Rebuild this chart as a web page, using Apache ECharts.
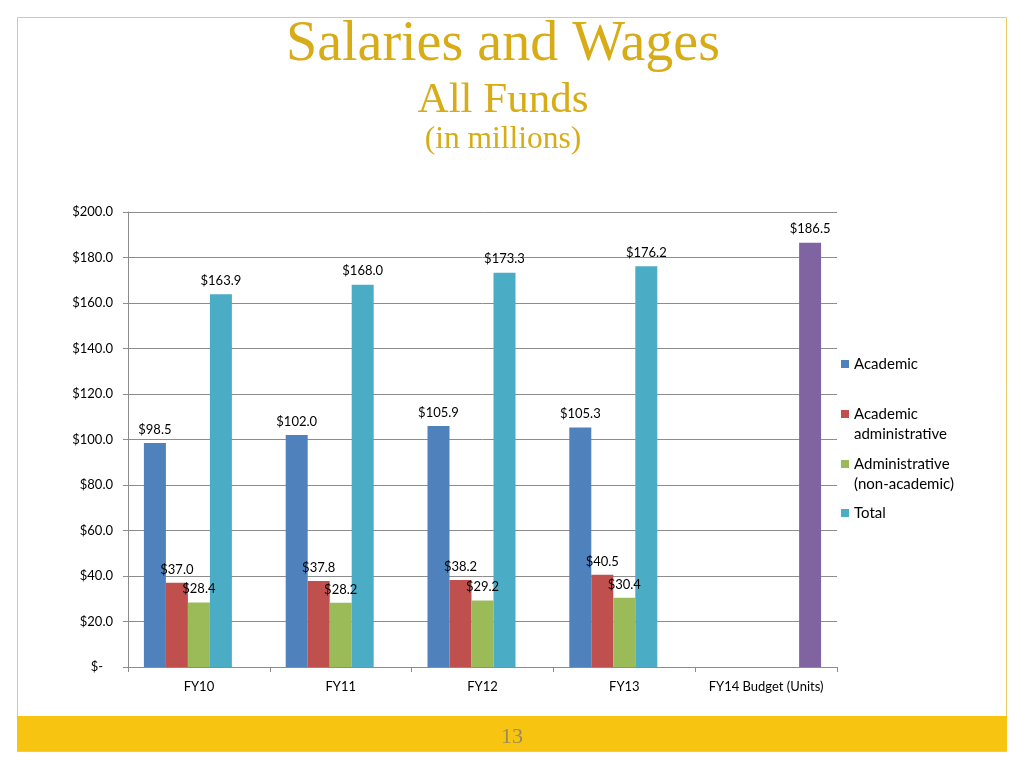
<!DOCTYPE html>
<html>
<head>
<meta charset="utf-8">
<script src="https://cdn.jsdelivr.net/npm/echarts@6/dist/echarts.min.js"></script>
<style>
html,body{margin:0;padding:0;background:#fff;}
#chart{width:1024px;height:768px;}
</style>
</head>
<body>
<div id="chart"></div>
<script>
const categories = ['FY10', 'FY11', 'FY12', 'FY13', 'FY14 Budget (Units)'];
const academic = [98.5, 102.0, 105.9, 105.3, null];
const academicAdmin = [37.0, 37.8, 38.2, 40.5, null];
const administrative = [28.4, 28.2, 29.2, 30.4, null];
const total = [163.9, 168.0, 173.3, 176.2, null];
const budget = [null, null, null, null, 186.5];
const seriesNames = ['Academic', 'Academic administrative', 'Administrative (non-academic)', 'Total'];
const legendLabels = ['Academic', ' \nAcademic\nadministrative', ' \nAdministrative\n(non-academic)', 'Total'];
const yTicks = [0, 20, 40, 60, 80, 100, 120, 140, 160, 180, 200];

const colors = ['#4F81BD', '#C0504D', '#9BBB59', '#4BACC6', '#8064A2'];
const fontFam = 'Lato, "Noto Sans", sans-serif';
const gold = '#D8AC17';

function money(v) { return '$' + Number(v).toFixed(1); }

const labelCfg = {
  show: true, position: 'top', distance: 7,
  fontFamily: fontFam, fontSize: 13, color: '#000',
  formatter: p => money(p.value)
};

function mkSeries(name, data, color) {
  return {
    name: name, type: 'bar', data: data, barWidth: 22, barGap: '0%',
    itemStyle: { color: color },
    label: labelCfg,
    emphasis: { disabled: true }
  };
}

const legendTops = [349, 379, 429, 498];
const legends = seriesNames.map((n, i) => ({
  data: [n], orient: 'vertical', left: 836, top: legendTops[i],
  selectedMode: false, icon: 'rect', itemWidth: 8, itemHeight: 8, itemGap: 0,
  formatter: () => legendLabels[i],
  textStyle: { fontFamily: fontFam, fontSize: 15, color: '#000', lineHeight: 20 }
}));

const chart = echarts.init(document.getElementById('chart'), null, { renderer: 'canvas' });
chart.setOption({
  animation: false,
  backgroundColor: '#fff',
  grid: { left: 128, right: 187, top: 212, bottom: 101, containLabel: false },
  legend: legends,
  xAxis: {
    type: 'category', data: categories,
    axisLine: { lineStyle: { color: '#8c8c8c', width: 1 } },
    axisTick: { show: true, length: 5, lineStyle: { color: '#8c8c8c' } },
    axisLabel: { fontFamily: fontFam, fontSize: 13, color: '#000', margin: 13, interval: 0 }
  },
  yAxis: {
    type: 'value', min: yTicks[0], max: yTicks[yTicks.length - 1], interval: 20,
    axisLine: { show: true, lineStyle: { color: '#8c8c8c', width: 1 } },
    axisTick: { show: true, length: 5, lineStyle: { color: '#8c8c8c' } },
    splitLine: { lineStyle: { color: '#8c8c8c', width: 1 } },
    axisLabel: {
      fontFamily: fontFam, fontSize: 13, color: '#000', margin: 15,
      formatter: v => v === 0 ? '$-   ' : money(v)
    }
  },
  series: [
    mkSeries(seriesNames[0], academic, colors[0]),
    mkSeries(seriesNames[1], academicAdmin, colors[1]),
    mkSeries(seriesNames[2], administrative, colors[2]),
    mkSeries(seriesNames[3], total, colors[3]),
    mkSeries('FY14 Budget', budget, colors[4])
  ],
  graphic: [
    { type: 'rect', shape: { x: 17.5, y: 17.5, width: 989, height: 734 },
      style: { fill: 'none', stroke: '#E8CB62', lineWidth: 1 }, silent: true, z: -1 },
    { type: 'rect', shape: { x: 17, y: 716, width: 990, height: 35 },
      style: { fill: '#F7C511' }, silent: true, z: -1 },
    { type: 'text', x: 512, y: 737, silent: true,
      style: { text: '13', fill: '#9C8A58', font: '22px "Liberation Serif", serif', align: 'center', verticalAlign: 'middle' } },
    { type: 'text', x: 503, y: 45, silent: true,
      style: { text: 'Salaries and Wages', fill: gold, font: '56px "Liberation Serif", serif', align: 'center', verticalAlign: 'middle' } },
    { type: 'text', x: 503, y: 101, silent: true,
      style: { text: 'All Funds', fill: gold, font: '43px "Liberation Serif", serif', align: 'center', verticalAlign: 'middle' } },
    { type: 'text', x: 503, y: 140, silent: true,
      style: { text: '(in millions)', fill: gold, font: '31.5px "Liberation Serif", serif', align: 'center', verticalAlign: 'middle' } }
  ]
});
</script>
</body>
</html>
